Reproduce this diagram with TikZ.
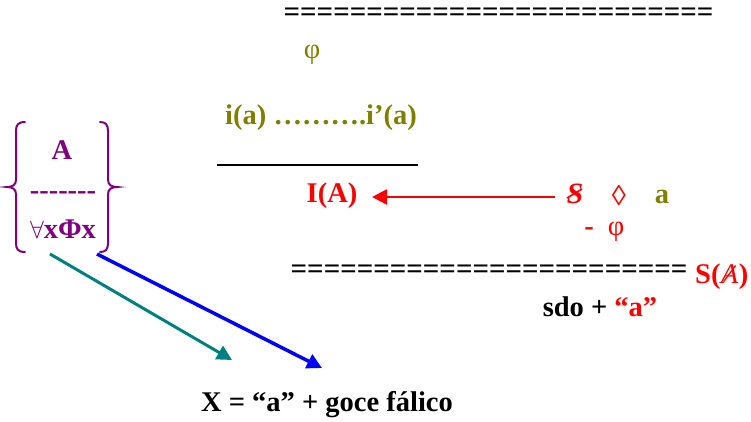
\documentclass[tikz,border=0pt]{standalone}
\usepackage{fontspec}
\setmainfont{Liberation Serif}
\usetikzlibrary{arrows.meta}
\definecolor{olv}{RGB}{128,128,0}
\definecolor{prp}{RGB}{128,0,128}
\definecolor{tl}{RGB}{0,128,128}
\newcommand{\hy}{\hbox{-}}
\begin{document}
\begin{tikzpicture}[x=1pt,y=-1pt,
  every node/.style={inner sep=0pt, font=\fontsize{28.5}{34}\selectfont\bfseries},
  eqline/.style={font=\fontsize{29}{34}\selectfont\bfseries},
  brace/.style={draw=prp, line width=2pt, line cap=round},
  arr/.style={line width=#1, -{Triangle[length=15pt,width=15pt]}},
  arr/.default=3pt]
\useasboundingbox[fill=white] (0,0) rectangle (751,421);

% top double line and phi
\node[eqline] (eqtop) at (498.5,15) {==========================};
\node[olv, font=\fontsize{28.5}{34}\selectfont] (phitop) at (312,55) {φ};
\node[olv] (ii) at (321,118) {i(a) ……….i’(a)};
\coordinate (bar1) at (217,165);
\coordinate (bar2) at (418,165);
\draw[line width=1.5pt] (bar1) -- (bar2);

% I(A) <- barred S
\node[red] (IA) at (332,196) {I(A)};
\node[red, font=\fontsize{29.5}{34}\selectfont\bfseries\itshape] (bS) at (575,194) {S};
\draw[red, line width=1.6pt] ([shift={(-8,4)}]bS.center) -- ([shift={(7,-5)}]bS.center);
\node[red, font=\fontsize{28.5}{34}\selectfont] (loz) at (619,195) {◊};
\node[olv] (a1) at (662,197) {a};
\node[red] (dash) at (589,232) {-};
\node[red, font=\fontsize{28.5}{34}\selectfont] (phi2) at (616,232) {φ};
\coordinate (ra1) at (555,197);
\coordinate (ra2) at (372,197);
\draw[red, arr=2.5pt] (ra1) -- (ra2);

% lower double line, S(A barred)
\node[eqline] (eqlow) at (489,272) {========================};
\node[red, anchor=base west] (sA1) at (695,283) {S(};
\node[red, anchor=base west, font=\fontsize{28.5}{34}\selectfont\itshape] (sA2) at (sA1.base east) {A};
\node[red, anchor=base west] (sA3) at (sA2.base east) {)};
\draw[red, line width=1.3pt] ([shift={(-6,8)}]sA2.center) -- ([shift={(6,-8)}]sA2.center);
\node (sdo) at (600,307) {sdo + \textcolor{red}{“a”}};

% left group
\node[prp] (A) at (62,150) {A};
\node[prp] (dashes) at (63,196) {\hy\hy\hy\hy\hy\hy\hy};
\node[prp] (fx) at (63,229) {$\forall$xΦx};
\draw[brace] (25,122) .. controls (18,122) and (16,125) .. (16,131) -- (16,180)
  .. controls (16,185) and (12,187) .. (7,187) .. controls (12,187) and (16,189) .. (16,194)
  -- (16,243) .. controls (16,249) and (18,252) .. (25,252);
\draw[brace] (100,122) .. controls (106,122) and (108,125) .. (108,131) -- (108,180)
  .. controls (108,185) and (112,187) .. (117,187) .. controls (112,187) and (108,189) .. (108,194)
  -- (108,243) .. controls (108,249) and (106,252) .. (100,252);
\coordinate (t1) at (50,254);
\coordinate (t2) at (232,360);
\coordinate (b1) at (97,254);
\coordinate (b2) at (322,368);
\draw[tl, arr=3pt] (t1) -- (t2);
\draw[blue, arr=3.5pt] (b1) -- (b2);

\node (X) at (327,405) {X = “a” + goce fálico};
\end{tikzpicture}
\end{document}
